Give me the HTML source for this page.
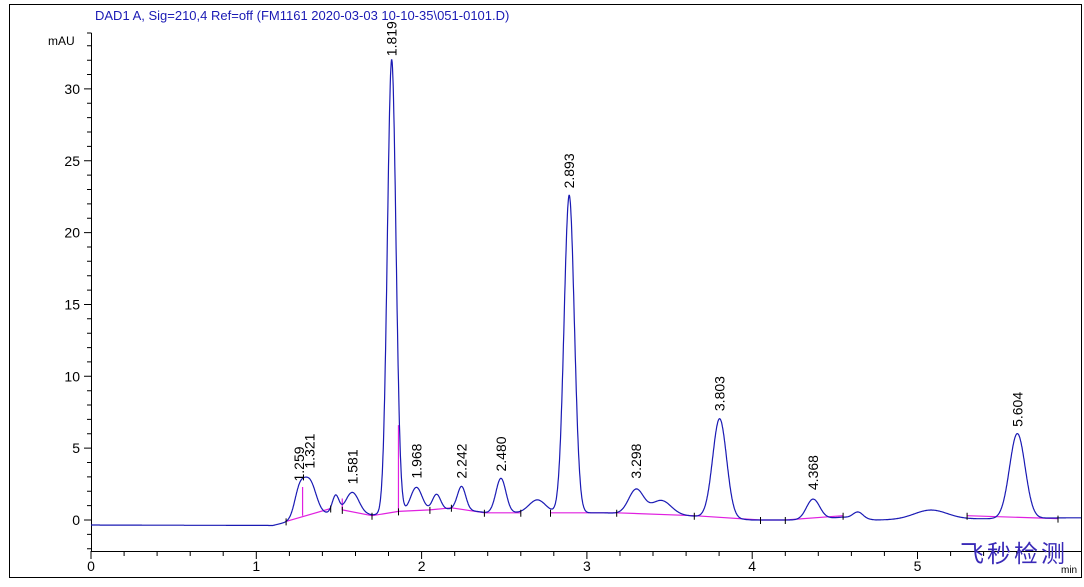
<!DOCTYPE html>
<html><head><meta charset="utf-8"><style>
body{margin:0;background:#fff;width:1084px;height:582px;overflow:hidden}
svg text{font-family:"Liberation Sans",Arial,sans-serif}
</style></head><body>
<svg id="s" width="1084" height="582" xmlns="http://www.w3.org/2000/svg">
<rect x="9.5" y="4.5" width="1072" height="573" fill="none" stroke="#000" stroke-width="1"/>
<text x="95" y="20" font-size="13" fill="#1a1ab4">DAD1 A, Sig=210,4 Ref=off (FM1161 2020-03-03 10-10-35\051-0101.D)</text>
<text x="48" y="45" font-size="12" fill="#000">mAU</text>
<path id="ax" stroke="#000" stroke-width="1" fill="none"/>
<g id="lab" font-size="14" fill="#000"></g>
<path id="base" fill="none" stroke="#e020e0" stroke-width="1.2"/>
<path id="tr" fill="none" stroke="#1a1ab4" stroke-width="1.2"/>
<path id="bt" fill="none" stroke="#000" stroke-width="1"/>
<g id="pl" font-size="14" fill="#000"></g>
<text x="960" y="562" font-size="24" fill="#3a2ab8" font-family="'Noto Serif CJK SC',serif" letter-spacing="3">飞秒检测</text>
<text x="1061" y="573" font-size="10" fill="#000">min</text>
</svg>
<script>
var X=function(t){return 91+t*165.3}, Y=function(v){return 520-v*14.37};
var lab=document.getElementById('lab');
var d='M91.5,33 H87 M91.5,33 V551.5 H1081';
for(var v=-2;v<=33;v++){var y=Y(v);d+=' M'+(v%5==0?84:87)+','+y.toFixed(1)+' H91';}
for(var v=0;v<=30;v+=5){lab.innerHTML+='<text x="80" y="'+(Y(v)+5)+'" text-anchor="end">'+v+'</text>';}
for(var i=0;i<=29;i++){var t=i/5,x=X(t);if(x>1081)break;d+=' M'+x.toFixed(1)+',551 v'+(i%5==0?8:5);}
for(var t=0;t<=5;t++){lab.innerHTML+='<text x="'+X(t)+'" y="571" text-anchor="middle">'+t+'</text>';}
document.getElementById('ax').setAttribute('d',d);
var P=[[1.259,1.7,.03],[1.321,2.5,.04],[1.48,1.2,.02],[1.581,1.5,.04],[1.819,31.6,.026],[1.968,1.7,.035],[2.09,1.1,.025],[2.242,1.6,.025],[2.48,2.4,.03],[2.70,0.9,.05],[2.893,22.1,.031],[3.298,1.7,.045],[3.45,1.0,.06],[3.803,6.9,.042],[4.368,1.4,.04],[4.64,0.45,.03],[5.08,0.65,.1],[5.604,5.9,.047]];
var B=[[0,-.35],[1.1,-.38],[1.2,-.1],[1.45,.5],[1.7,.35],[2.0,.6],[2.2,.8],[2.4,.5],[2.6,.5],[3.1,.5],[3.6,.3],[4.0,0],[4.3,0],[4.55,.2],[4.75,0],[5.9,.15],[6.0,.15]];
function base(t){for(var i=0;i<B.length-1;i++){if(t<=B[i+1][0]){var a=B[i],b=B[i+1];return a[1]+(b[1]-a[1])*(t-a[0])/(b[0]-a[0]);}}return .15;}
function f(t){var s=base(t);P.forEach(function(p){s+=p[1]*Math.exp(-Math.pow(t-p[0],2)/(2*p[2]*p[2]));});return s;}
var td='';for(var t=0;t<=5.99;t+=0.002){td+=(td?'L':'M')+X(t).toFixed(1)+','+Y(f(t)).toFixed(1);}
document.getElementById('tr').setAttribute('d',td);
var bs=[[[1.18,-.1],[1.45,.8]],[[1.52,.7],[1.7,.3],[1.86,.6],[2.05,.7],[2.18,.85],[2.38,.5],[2.6,.5]],[[2.78,.5],[3.18,.5],[3.65,.3],[4.05,0],[4.2,0],[4.55,.3]],[[5.3,.3],[5.85,.1]]];
var bd='',tk='';bs.forEach(function(s){s.forEach(function(p,i){bd+=(i?'L':'M')+X(p[0]).toFixed(1)+','+Y(p[1]).toFixed(1);tk+='M'+X(p[0]).toFixed(1)+','+(Y(p[1])-3).toFixed(1)+'v7';});});
bd+='M'+X(1.28)+','+Y(.3)+'V'+Y(2.3)+'M'+X(1.52)+','+Y(.7)+'V'+Y(1.5)+'M'+X(1.86)+','+Y(.6)+'V'+Y(6.6);
document.getElementById('base').setAttribute('d',bd);
document.getElementById('bt').setAttribute('d',tk);
var L=[[1.259,2.4],[1.321,3.3],[1.581,2.2],[1.819,32],[1.968,2.6],[2.242,2.6],[2.48,3.1],[2.893,22.8],[3.298,2.6],[3.803,7.3],[4.368,1.8],[5.604,6.2]];
var pl=document.getElementById('pl');
L.forEach(function(l){var x=X(l[0])+5,y=Y(l[1])-4;pl.innerHTML+='<text transform="translate('+x.toFixed(1)+','+y.toFixed(1)+') rotate(-90)">'+l[0].toFixed(3)+'</text>';});
</script>
</body></html>
